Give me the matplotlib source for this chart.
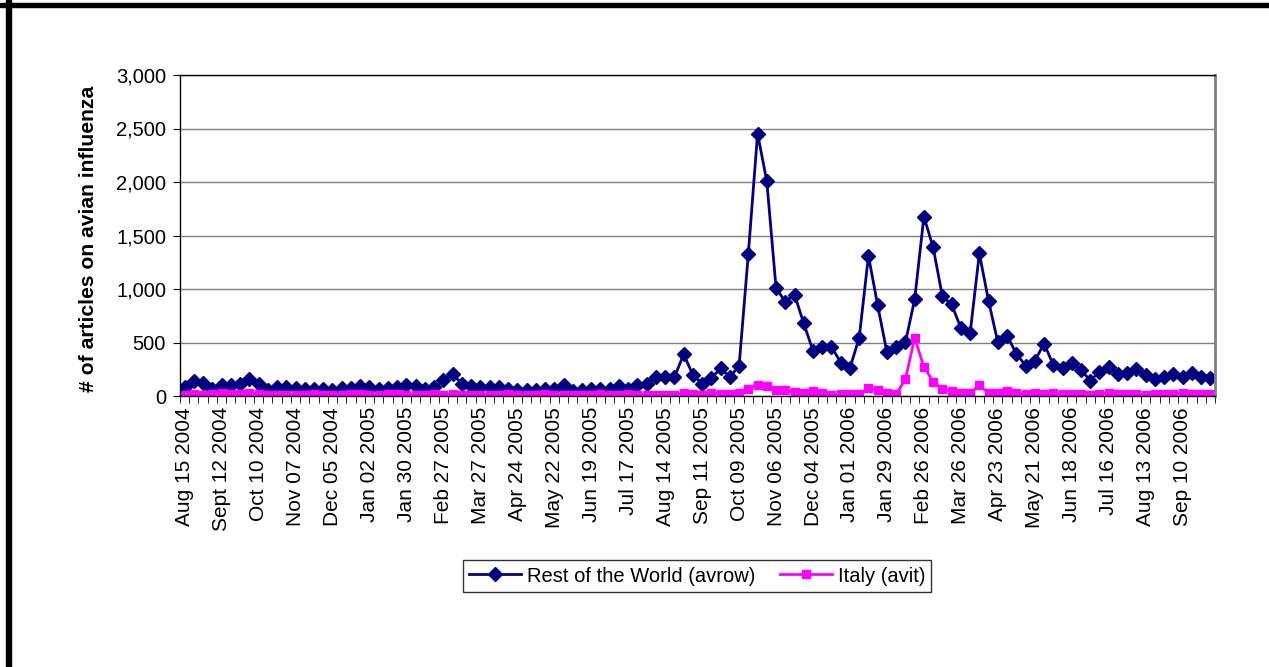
import matplotlib
matplotlib.use("Agg")
import matplotlib.pyplot as plt
from matplotlib.patches import Rectangle
from matplotlib.ticker import FuncFormatter
import numpy as np

plt.rcParams['font.family'] = ['Liberation Sans', 'DejaVu Sans']

# weekly counts, Aug 15 2004 -> Oct 01 2006
week_labels = [
    "Aug 15 2004", "Sept 12 2004", "Oct 10 2004", "Nov 07 2004", "Dec 05 2004",
    "Jan 02 2005", "Jan 30 2005", "Feb 27 2005", "Mar 27 2005", "Apr 24 2005",
    "May 22 2005", "Jun 19 2005", "Jul 17 2005", "Aug 14 2005", "Sep 11 2005",
    "Oct 09 2005", "Nov 06 2005", "Dec 04 2005", "Jan 01 2006", "Jan 29 2006",
    "Feb 26 2006", "Mar 26 2006", "Apr 23 2006", "May 21 2006", "Jun 18 2006",
    "Jul 16 2006", "Aug 13 2006", "Sep 10 2006",
]

rest_of_world = [
    80, 140, 120, 70, 105, 100, 110, 160, 115, 60,
    85, 80, 75, 65, 70, 65, 55, 75, 75, 90,
    85, 70, 75, 85, 105, 95, 70, 80, 145, 205,
    115, 95, 85, 80, 80, 65, 60, 55, 55, 65,
    70, 100, 45, 55, 65, 70, 65, 90, 70, 105,
    115, 180, 180, 175, 390, 197, 116, 166, 259, 178,
    281, 1328, 2453, 2006, 1009, 881, 947, 678, 422, 459,
    459, 313, 262, 545, 1310, 846, 408, 455, 502, 903,
    1677, 1389, 931, 856, 636, 586, 1332, 887, 502, 564,
    395, 285, 328, 490, 291, 259, 312, 244, 144, 228,
    269, 206, 219, 250, 197, 156, 175, 206, 181, 219,
    181, 172,
]

italy = [
    10, 15, 12, 20, 25, 22, 18, 25, 20, 8,
    10, 12, 10, 8, 15, 10, 8, 12, 15, 18,
    12, 10, 15, 20, 12, 8, 10, 15, 12, 18,
    10, 12, 8, 10, 12, 15, 10, 8, 12, 18,
    10, 12, 8, 10, 12, 15, 10, 12, 15, 10,
    12, 10, 9, 9, 31, 16, 9, 25, 22, 22,
    31, 69, 103, 94, 53, 56, 41, 25, 47, 25,
    9, 16, 16, 16, 72, 53, 25, 16, 157, 542,
    273, 135, 63, 47, 31, 25, 103, 25, 25, 47,
    25, 16, 25, 20, 25, 15, 20, 15, 10, 20,
    25, 15, 20, 15, 10, 15, 20, 20, 25, 20,
    15, 15,
]

W, H = 1269, 667
fig = plt.figure(figsize=(W / 100, H / 100), dpi=100)
ax = fig.add_axes([180 / W, 1 - 396 / H, 1035 / W, 321 / H])

x = np.arange(len(rest_of_world))
ax.plot(x, rest_of_world, color='#000080', lw=2, marker='D', ms=7,
        label='Rest of the World (avrow)')
ax.plot(x, italy, color='#FF00FF', lw=2, marker='s', ms=6,
        label='Italy (avit)')

ax.set_xlim(-0.5, len(x) - 0.5)
ax.set_ylim(0, 3000)
ax.set_yticks(np.arange(0, 3001, 500))
ax.yaxis.set_major_formatter(FuncFormatter(lambda v, p: f'{int(v):,}'))
ax.grid(axis='y', color='#808080', lw=1)
ax.set_axisbelow(True)

# category ticks: labels every 4th week, tick marks on the week boundaries
ax.set_xticks(x[::4])
ax.set_xticklabels(week_labels, rotation=90)
ax.set_xticks(np.arange(-0.5, len(x)), minor=True)
ax.tick_params(axis='x', which='major', length=0, pad=8, labelsize=15)
ax.tick_params(axis='x', which='minor', length=5, direction='out', color='black')
ax.tick_params(axis='y', length=5, direction='out', labelsize=14.5, pad=5)

for side in ('left', 'bottom', 'top'):
    ax.spines[side].set_color('black')
    ax.spines[side].set_linewidth(1)
ax.spines['right'].set_color('#808080')
ax.spines['right'].set_linewidth(2)

ax.set_ylabel('# of articles on avian influenza', fontsize=15.2, fontweight='bold')
ax.yaxis.set_label_coords(-0.079, 0.49)

leg = fig.legend(loc='center', bbox_to_anchor=(697 / W, 1 - 576 / H), ncol=2,
                 fontsize=14.5, frameon=True, fancybox=False, edgecolor='black',
                 handlelength=2.6, columnspacing=1.2, handletextpad=0.3,
                 borderpad=0.3)
leg.get_frame().set_linewidth(1)

# outer frame edges
fig.patches.append(Rectangle((6 / W, 0), 5 / W, 1, transform=fig.transFigure,
                             color='black'))
fig.patches.append(Rectangle((0, 1 - 7 / H), 1, 4 / H, transform=fig.transFigure,
                             color='black'))

fig.savefig('out.png', dpi=100)
